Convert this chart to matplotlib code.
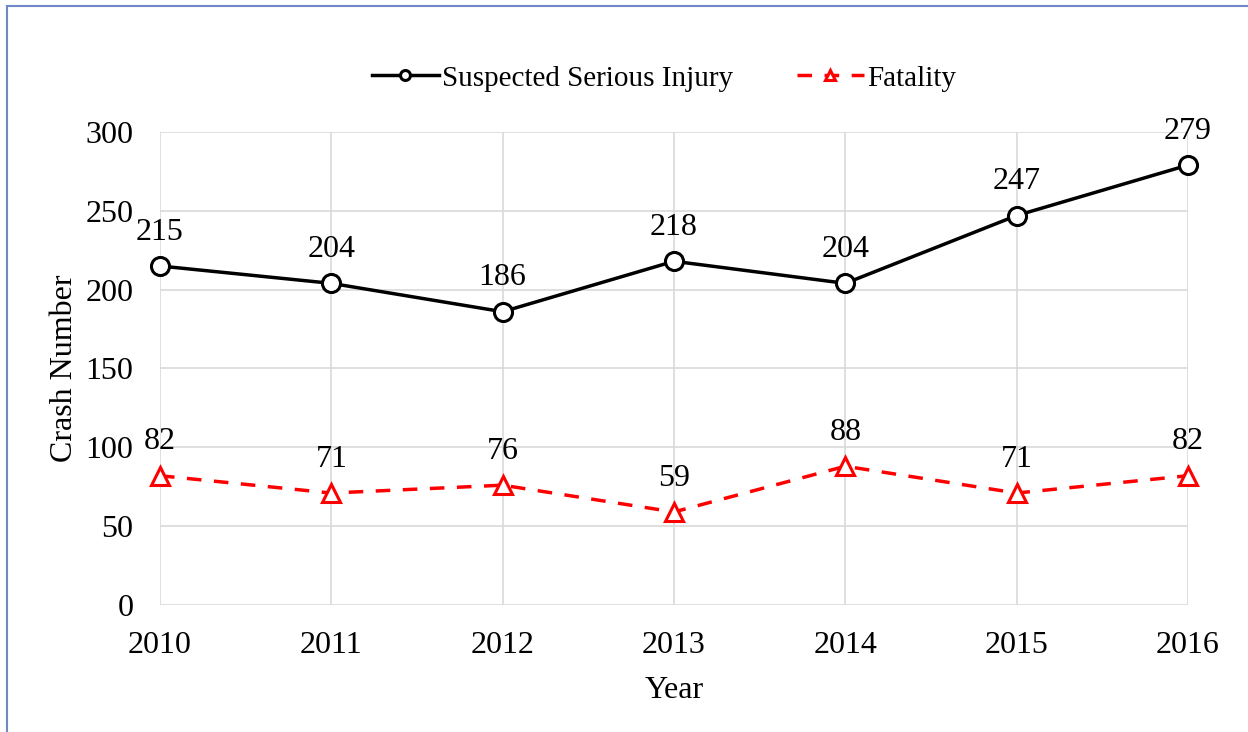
import matplotlib
matplotlib.use("Agg")
import matplotlib.pyplot as plt
from matplotlib.lines import Line2D

plt.rcParams['font.family'] = ['Liberation Serif', 'DejaVu Serif']

years = [2010, 2011, 2012, 2013, 2014, 2015, 2016]
serious_injury = [215, 204, 186, 218, 204, 247, 279]
fatality = [82, 71, 76, 59, 88, 71, 82]

fig = plt.figure(figsize=(12.48, 7.32), dpi=100)
ax = fig.add_axes([0.1282, 0.1735, 0.8237, 0.6462])

ax.plot(years, serious_injury, color='black', lw=2.5, marker='o', ms=13,
        mfc='white', mec='black', mew=2.2, clip_on=False, zorder=4,
        label='Suspected Serious Injury')
ax.plot(years, fatality, color='#ff0000', lw=2.5, ls=(0, (4.2, 3.6)), marker='^', ms=13,
        mfc='white', mec='#ff0000', mew=2.2, clip_on=False, zorder=4,
        label='Fatality')

for x, v in zip(years, serious_injury):
    ax.annotate(str(v), (x, v), xytext=(0, 19), textcoords='offset points',
                ha='center', va='baseline', fontsize=23)
for x, v in zip(years, fatality):
    ax.annotate(str(v), (x, v), xytext=(0, 19), textcoords='offset points',
                ha='center', va='baseline', fontsize=23)

ax.set_xlim(2010, 2016)
ax.set_ylim(0, 300)
ax.set_xticks(years)
ax.set_yticks(range(0, 301, 50))
ax.grid(True, color='#d9d9d9', lw=1.2)
ax.set_axisbelow(True)
for s in ax.spines.values():
    s.set_visible(False)
ax.tick_params(length=0, labelsize=23)
ax.tick_params(axis='x', pad=19)
ax.tick_params(axis='y', pad=19)
ax.set_xlabel('Year', fontsize=23, labelpad=11)
ax.set_ylabel('Crash Number', fontsize=23, labelpad=5)

ax.legend(loc='lower center', bbox_to_anchor=(0.49, 1.03), ncol=2, frameon=False,
          fontsize=21, markerscale=0.55, handlelength=2.3, handletextpad=0.1,
          columnspacing=2.2)

# blue frame around the chart (only left and top visible)
fig.add_artist(Line2D([7 / 1248, 7 / 1248], [0, 1 - 6 / 732], color='#7088c8', lw=1.5,
                      transform=fig.transFigure))
fig.add_artist(Line2D([7 / 1248, 1], [1 - 6 / 732, 1 - 6 / 732], color='#7088c8', lw=1.5,
                      transform=fig.transFigure))

fig.savefig('out.png', dpi=100)
